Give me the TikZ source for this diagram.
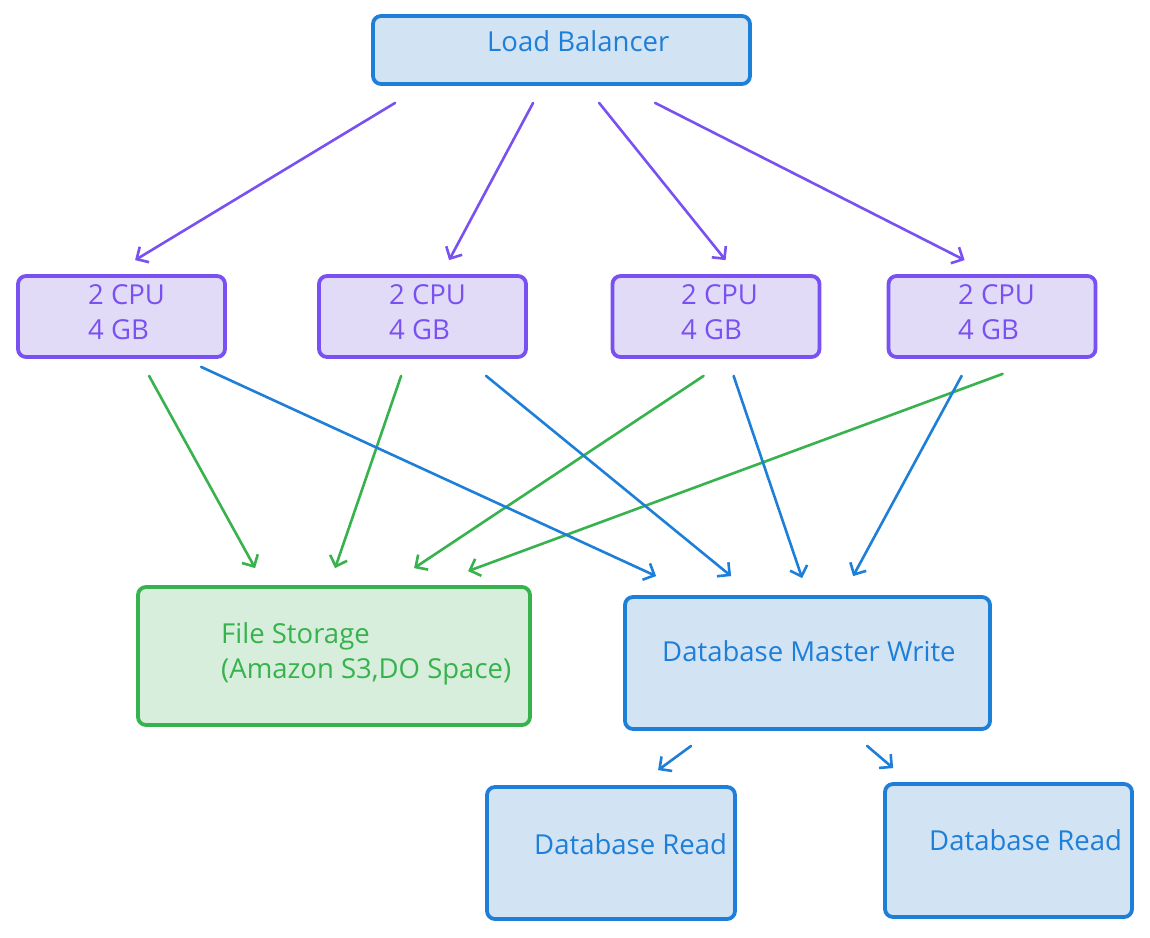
\documentclass[tikz,border=0pt]{standalone}
\usepackage{fontspec}
\setmainfont{Open Sans}
\usetikzlibrary{arrows.meta,calc}
\definecolor{bstroke}{HTML}{1E7FD9}
\definecolor{bfill}{HTML}{D2E3F3}
\definecolor{pstroke}{HTML}{7950F2}
\definecolor{pfill}{HTML}{E2DBF8}
\definecolor{gstroke}{HTML}{37B24D}
\definecolor{gfill}{HTML}{D8EEDD}
\begin{document}
\begin{tikzpicture}[x=1pt,y=-1pt,
  box/.style={draw, line width=3.8pt, rounded corners=8pt, inner sep=0pt},
  bluebox/.style={box, draw=bstroke, fill=bfill},
  purplebox/.style={box, draw=pstroke, fill=pfill, minimum width=207pt, minimum height=81pt},
  greenbox/.style={box, draw=gstroke, fill=gfill},
  txt/.style={anchor=base west, inner sep=0pt, font=\fontsize{27.5}{32}\selectfont},
  btxt/.style={txt, text=bstroke},
  ptxt/.style={txt, text=pstroke},
  gtxt/.style={txt, text=gstroke},
  conn/.style={line width=2.6pt, line cap=round, line join=round,
    -{Straight Barb[length=9pt,width=18pt,line width=2.6pt]}},
  parr/.style={conn, draw=pstroke},
  garr/.style={conn, draw=gstroke},
  barr/.style={conn, draw=bstroke}
]
\useasboundingbox (0,0) rectangle (1150,937);
\fill[white] (0,0) rectangle (1150,937);

% boxes
\node[bluebox, minimum width=377pt, minimum height=68pt] (lb) at (561.5,50) {};
\node[purplebox] (c1) at (121.5,316.5) {};
\node[purplebox] (c2) at (422.5,316.5) {};
\node[purplebox] (c3) at (716,316.5) {};
\node[purplebox] (c4) at (992,316.5) {};
\node[greenbox, minimum width=392pt, minimum height=138pt] (fs) at (334,656) {};
\node[bluebox, minimum width=365pt, minimum height=132pt] (dbm) at (807.5,663) {};
\node[bluebox, minimum width=248pt, minimum height=132pt] (r1) at (611,853) {};
\node[bluebox, minimum width=247pt, minimum height=133pt] (r2) at (1008.5,850.5) {};

% texts
\node[btxt] (lbt) at (487,51) {Load Balancer};
\node[ptxt] (c1a) at (88,304) {2 CPU};
\node[ptxt] (c1b) at (88,339) {4 GB};
\node[ptxt] (c2a) at (389,304) {2 CPU};
\node[ptxt] (c2b) at (389,339) {4 GB};
\node[ptxt] (c3a) at (681,304) {2 CPU};
\node[ptxt] (c3b) at (681,339) {4 GB};
\node[ptxt] (c4a) at (958,304) {2 CPU};
\node[ptxt] (c4b) at (958,339) {4 GB};
\node[gtxt] (fsa) at (221,643) {File Storage};
\node[gtxt] (fsb) at (221,678) {(Amazon S3,DO Space)};
\node[btxt] (dbmt) at (662,661) {Database Master Write};
\node[btxt] (r1t) at (534,854) {Database Read};
\node[btxt] (r2t) at (929,850) {Database Read};

% load balancer -> servers
\draw[parr] ($(lb.south west)+(24,17)$) -- ($(c1.north west)+(119,-14)$);
\draw[parr] ($(lb.south west)+(162,17)$) -- ($(c2.north west)+(132,-14)$);
\draw[parr] ($(lb.south west)+(228,17)$) -- ($(c3.north west)+(115,-14)$);
\draw[parr] ($(lb.south west)+(284,17)$) -- ($(c4.north west)+(78,-14)$);

% servers -> file storage
\draw[garr] ($(c1.south west)+(133,17)$) -- ($(fs.north west)+(119,-17)$);
\draw[garr] ($(c2.south west)+(84,17)$) -- ($(fs.north west)+(199,-17)$);
\draw[garr] ($(c3.south west)+(93,17)$) -- ($(fs.north west)+(278,-17)$);
\draw[garr] ($(c4.south west)+(116,15)$) -- ($(fs.north west)+(332,-14)$);

% servers -> database master
\draw[barr] ($(c1.south west)+(185,8)$) -- ($(dbm.north west)+(33,-19)$);
\draw[barr] ($(c2.south west)+(169,17)$) -- ($(dbm.north west)+(108,-19)$);
\draw[barr] ($(c3.south west)+(123,17)$) -- ($(dbm.north west)+(179,-17)$);
\draw[barr] ($(c4.south west)+(75,17)$) -- ($(dbm.north west)+(230,-19)$);

% master -> reads
\draw[barr] ($(dbm.south west)+(68,15)$) -- ($(r1.north west)+(173,-15)$);
\draw[barr] ($(dbm.south west)+(244,15)$) -- ($(r2.north west)+(10,-14)$);
\end{tikzpicture}
\end{document}
